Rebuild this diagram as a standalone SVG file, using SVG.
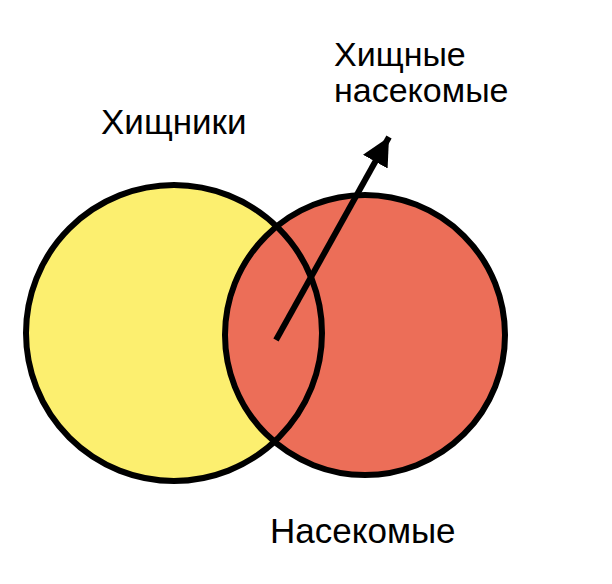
<svg xmlns="http://www.w3.org/2000/svg" width="612" height="584" viewBox="0 0 612 584">
<style>
.lbl{font-family:"Liberation Sans",Arial,sans-serif;font-size:35px;fill:#000}
.lbl2{font-family:"Liberation Sans",Arial,sans-serif;font-size:34px;fill:#000}
.ring{fill:none;stroke:#000;stroke-width:6}
</style>
<defs>
<marker id="ah" viewBox="0 0 10 10" refX="10" refY="5" markerWidth="4.7" markerHeight="4.8" markerUnits="strokeWidth" orient="auto">
<path d="M0,0 L10,5 L0,10 Z" fill="#000"/>
</marker>
</defs>
<rect width="612" height="584" fill="#fff"/>
<g id="predators">
<circle cx="174" cy="333" r="148" fill="#FCEF6F"/>
</g>
<g id="insects">
<circle cx="365" cy="335" r="140" fill="#EC6E58" stroke="#000" stroke-width="6"/>
</g>
<circle cx="174" cy="333" r="148" class="ring"/>
<g id="connectors">
<line x1="276" y1="340" x2="389" y2="137" stroke="#000" stroke-width="6" marker-end="url(#ah)"/>
</g>
<g id="labels">
<text class="lbl" x="101" y="134">Хищники</text>
<text class="lbl2" x="334" y="66">Хищные</text>
<text class="lbl2" x="334" y="102">насекомые</text>
<text class="lbl" x="270" y="543">Насекомые</text>
</g>
</svg>
